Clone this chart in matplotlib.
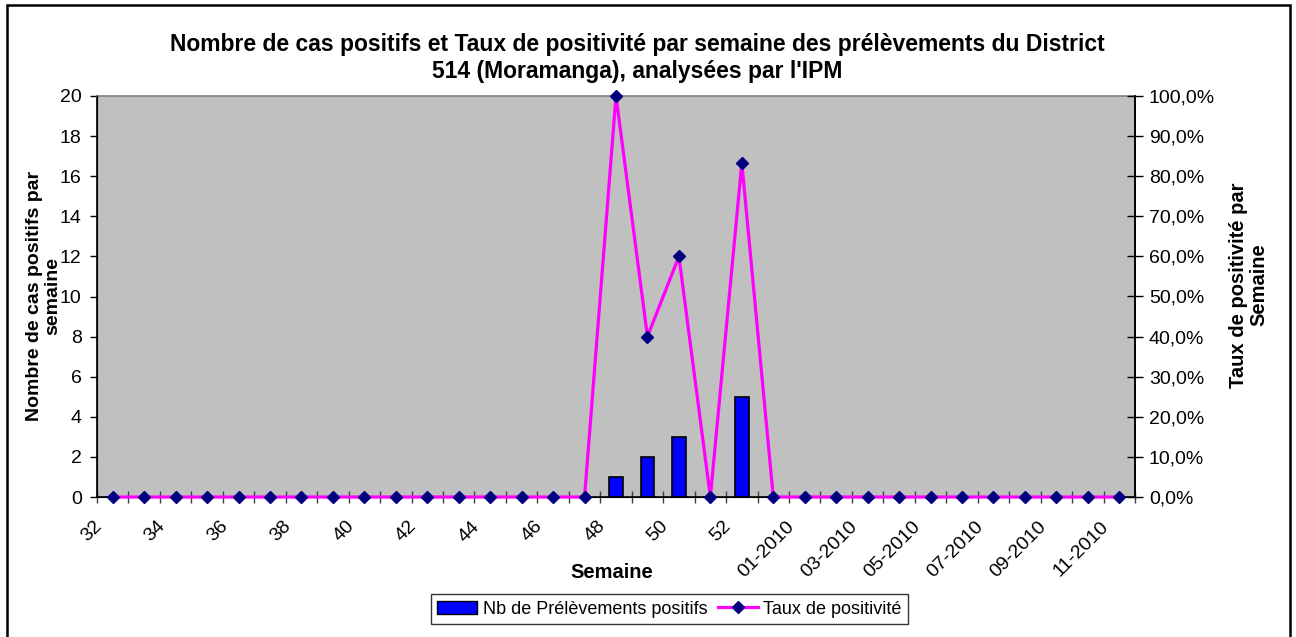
import matplotlib
matplotlib.use("Agg")
import matplotlib.pyplot as plt
import matplotlib.transforms as mtransforms
from matplotlib.patches import Rectangle
from matplotlib.lines import Line2D
from matplotlib.ticker import FuncFormatter, FixedLocator, FixedFormatter
import numpy as np

plt.rcParams['font.family'] = ['Liberation Sans', 'DejaVu Sans']

# ---- data ----
semaines = ["32", "33", "34", "35", "36", "37", "38", "39", "40", "41", "42",
            "43", "44", "45", "46", "47", "48", "49", "50", "51", "52", "53",
            "01-2010", "02-2010", "03-2010", "04-2010", "05-2010", "06-2010",
            "07-2010", "08-2010", "09-2010", "10-2010", "11-2010"]
nb_positifs = [0, 0, 0, 0, 0, 0, 0, 0, 0, 0, 0,
               0, 0, 0, 0, 0, 1, 2, 3, 0, 5, 0,
               0, 0, 0, 0, 0, 0, 0, 0, 0, 0, 0]
taux_positivite = [0, 0, 0, 0, 0, 0, 0, 0, 0, 0, 0,
                   0, 0, 0, 0, 0, 1.0, 0.4, 0.6, 0.0, 0.8333, 0,
                   0, 0, 0, 0, 0, 0, 0, 0, 0, 0, 0]

title = ("Nombre de cas positifs et Taux de positivité par semaine des prélèvements du District\n"
         "514 (Moramanga), analysées par l'IPM")

W, H, DPI = 1296, 637, 100
fig = plt.figure(figsize=(W / DPI, H / DPI), dpi=DPI)
fig.patch.set_facecolor("white")

L, R, B, T = 97, 1135, 497, 96
ax = fig.add_axes([L / W, 1 - B / H, (R - L) / W, (B - T) / H])
ax.set_facecolor("#C0C0C0")

x = np.arange(len(semaines))
ax.bar(x, nb_positifs, width=0.44, color="#0000FF", edgecolor="black", linewidth=1.2, zorder=3)
ax.set_xlim(-0.5, len(semaines) - 0.5)
ax.set_ylim(0, 20)
ax.set_yticks(np.arange(0, 21, 2))
ax.tick_params(axis="y", direction="out", length=5, width=1, labelsize=14, pad=6)

# x ticks: major at category boundaries (no labels), minor at centers with labels
ax.xaxis.set_major_locator(FixedLocator(np.arange(-0.5, len(semaines), 1)))
ax.xaxis.set_major_formatter(FixedFormatter([]))
ax.xaxis.set_minor_locator(FixedLocator(x[::2]))
ax.xaxis.set_minor_formatter(FixedFormatter(semaines[::2]))
ax.tick_params(axis="x", which="major", direction="inout", length=9, width=1, color="#404040")
ax.tick_params(axis="x", which="minor", length=0, pad=15, labelsize=14, labelrotation=45)

for s in ["left", "bottom"]:
    ax.spines[s].set_color("black")
    ax.spines[s].set_linewidth(1.2)
ax.spines["top"].set_color("#808080")
ax.spines["top"].set_linewidth(1.2)
ax.spines["right"].set_color("black")
ax.spines["right"].set_linewidth(1.2)

ax2 = ax.twinx()
ax2.plot(x, taux_positivite, color="#FF00FF", linewidth=2.3, marker="D", markersize=6.5,
         markerfacecolor="#000080", markeredgecolor="#000080", zorder=4, clip_on=False)
ax2.set_ylim(0, 1)
ax2.set_yticks(np.arange(0, 1.01, 0.1))
ax2.yaxis.set_major_formatter(FuncFormatter(lambda v, p: f"{v*100:.1f}%".replace(".", ",")))
ax2.tick_params(axis="y", direction="inout", length=12, width=1, labelsize=14, pad=4)
ax2.spines["right"].set_linewidth(1.2)
ax2.spines["top"].set_visible(False)

# axis titles
fig.text(44 / W, 1 - 296 / H, "Nombre de cas positifs par\nsemaine", rotation=90,
         ha="center", va="center", fontsize=14, fontweight="bold", linespacing=1.1)
fig.text(1249 / W, 1 - 285 / H, "Taux de positivité par\nSemaine", rotation=90,
         ha="center", va="center", fontsize=14.5, fontweight="bold", linespacing=1.1)
fig.text(612 / W, 1 - 572 / H, "Semaine", ha="center", va="center", fontsize=14.5, fontweight="bold")
fig.text(637 / W, 1 - 58 / H, title, ha="center", va="center", fontsize=16.5,
         fontweight="bold", linespacing=1.25)

# legend
handles = [Rectangle((0, 0), 1, 1, facecolor="#0000FF", edgecolor="black", linewidth=1),
           Line2D([0], [0], color="#FF00FF", linewidth=2.3, marker="D", markersize=6,
                  markerfacecolor="#000080", markeredgecolor="#000080")]
leg = fig.legend(handles, ["Nb de Prélèvements positifs", "Taux de positivité"],
                 loc="center", bbox_to_anchor=(669.5 / W, 1 - 609 / H), ncol=2,
                 fontsize=13, frameon=True, fancybox=False, edgecolor="black",
                 handlelength=2.2, handletextpad=0.3, columnspacing=0.6, borderpad=0.35)
leg.get_frame().set_linewidth(1.0)

# outer chart border
fig.patches.append(Rectangle((7 / W, -0.05), (1290 - 7) / W, 1.05 - 5 / H,
                             transform=fig.transFigure, fill=False, edgecolor="black",
                             linewidth=1.8, clip_on=False))

# rotated x labels: right/top aligned, nudged left like the reference
offset = mtransforms.ScaledTranslation(-7 / DPI, 0, fig.dpi_scale_trans)
for lab in ax.xaxis.get_minorticklabels():
    lab.set_ha("right")
    lab.set_va("top")
    lab.set_transform(lab.get_transform() + offset)

fig.savefig("out.png", dpi=DPI)
